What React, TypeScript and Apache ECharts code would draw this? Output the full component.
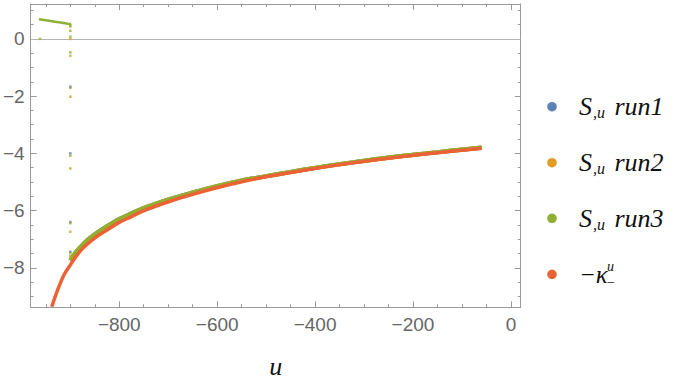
import React, { useEffect, useRef } from "react";
import * as echarts from "echarts";

// ---- data ----
const xMajorTicks = [-800, -600, -400, -200, 0];
const xMinorTicks = [-950, -900, -850, -800, -750, -700, -650, -600, -550, -500, -450, -400, -350, -300, -250, -200, -150, -100, -50, 0];
const yMajorTicks = [-8, -6, -4, -2, 0];
const yMinorTicks = [-9, -8.5, -8, -7.5, -7, -6.5, -6, -5.5, -5, -4.5, -4, -3.5, -3, -2.5, -2, -1.5, -1, -0.5, 0, 0.5, 1];

// S_{,u} main curve (runs overlap; run3 drawn on top)
const sCurveU = [-900, -890, -878, -865, -851, -825, -801, -775, -751, -701, -650, -601, -552, -501, -450, -401, -351, -300, -250, -200, -150, -100, -60];
const sCurveV = [-7.74, -7.48, -7.25, -7.03, -6.84, -6.55, -6.31, -6.1, -5.92, -5.62, -5.37, -5.15, -4.96, -4.8, -4.65, -4.51, -4.38, -4.26, -4.15, -4.05, -3.96, -3.87, -3.8];

// run3 early branch (u < -900)
const run3TopU = [-964, -950, -935, -920, -905, -900, -900];
const run3TopV = [0.69, 0.65, 0.61, 0.57, 0.53, 0.52, 0.4];

// isolated points at u = -900 (and one at -962)
const run1PtsU = [-900, -900, -900, -900];
const run1PtsV = [-1.67, -4.0, -6.4, -7.44];
const run2PtsU = [-900, -900, -900, -900, -900, -900];
const run2PtsV = [0.0, -0.59, -2.02, -4.53, -6.74, -7.59];
const run3PtsU = [-962, -900, -900, -900, -900, -900, -900, -900];
const run3PtsV = [0.0, 0.28, 0.08, -0.47, -1.71, -4.08, -6.44, -7.49];

// -kappa^u_- curve
const kappaU = [-938, -926, -913, -900, -878, -851, -825, -801, -775, -751, -701, -650, -601, -552, -501, -450, -401, -351, -300, -250, -200, -150, -100, -60];
const kappaV = [-9.36, -8.78, -8.25, -7.9, -7.38, -6.97, -6.68, -6.42, -6.21, -6.01, -5.7, -5.43, -5.2, -5.0, -4.82, -4.67, -4.53, -4.4, -4.28, -4.17, -4.07, -3.98, -3.89, -3.82];

const legendNames = ["S,u run1", "S,u run2", "S,u run3", "−κ^u_−"];
const colors = ["#5E81B5", "#E19C24", "#8FB032", "#EB6235"];

const zip = (u: number[], v: number[]) => u.map((x, i) => [x, v[i]]);

const X_MIN = -981;
const X_MAX = 20;
const Y_MIN = -9.38;
const Y_MAX = 1.22;

const FRAME = "#9a9a9a";
const LABEL = "#666666";

export default function App() {
  const ref = useRef<HTMLDivElement>(null);

  useEffect(() => {
    if (!ref.current) return;
    const chart = echarts.init(ref.current, undefined, { renderer: "svg" });

    const minus = (v: number) => String(v).replace("-", "\u2212");

    const baseX = (pos: "bottom" | "top", ticks: number[], len: number, line: boolean, labels: boolean) => ({
      type: "value" as const,
      gridIndex: 0,
      position: pos,
      min: X_MIN,
      max: X_MAX,
      axisLine: { show: line, onZero: false, lineStyle: { color: FRAME, width: 1 } },
      axisTick: { show: true, inside: true, length: len, customValues: ticks, lineStyle: { color: FRAME, width: 1 } },
      axisLabel: labels
        ? { show: true, customValues: xMajorTicks, formatter: minus, color: LABEL, fontSize: 19, fontFamily: "Liberation Sans", margin: 8 }
        : { show: false },
      splitLine: { show: false },
    });
    const baseY = (pos: "left" | "right", ticks: number[], len: number, line: boolean, labels: boolean) => ({
      type: "value" as const,
      gridIndex: 0,
      position: pos,
      min: Y_MIN,
      max: Y_MAX,
      axisLine: { show: line, onZero: false, lineStyle: { color: FRAME, width: 1 } },
      axisTick: { show: true, inside: true, length: len, customValues: ticks, lineStyle: { color: FRAME, width: 1 } },
      axisLabel: labels
        ? { show: true, customValues: yMajorTicks, formatter: minus, color: LABEL, fontSize: 19, fontFamily: "Liberation Sans", margin: 6 }
        : { show: false },
      splitLine: { show: false },
    });

    const xAxes: any[] = [
      {
        ...baseX("bottom", xMajorTicks, 6, true, true),
        name: "u",
        nameLocation: "middle",
        nameGap: 46,
        nameTextStyle: { fontFamily: "Liberation Serif", fontStyle: "italic", fontSize: 26, color: "#111" },
      },
      baseX("bottom", xMinorTicks, 3, false, false),
      baseX("top", xMajorTicks, 6, true, false),
      baseX("top", xMinorTicks, 3, false, false),
    ];
    const yAxes: any[] = [
      baseY("left", yMajorTicks, 6, true, true),
      baseY("left", yMinorTicks, 3, false, false),
      baseY("right", yMajorTicks, 6, true, false),
      baseY("right", yMinorTicks, 3, false, false),
    ];

    const sCurve = zip(sCurveU, sCurveV);

    const curveSeries = (name: string, color: string, data: number[][], width: number, z: number) => ({
      name,
      type: "line" as const,
      data,
      xAxisIndex: 0,
      yAxisIndex: 0,
      smooth: 0.35,
      showSymbol: false,
      symbol: "none",
      lineStyle: { color, width },
      itemStyle: { color },
      z,
      silent: true,
    });
    const ptsSeries = (name: string, color: string, data: number[][], z: number) => ({
      name,
      type: "scatter" as const,
      data,
      xAxisIndex: 0,
      yAxisIndex: 0,
      symbol: "rect",
      symbolSize: 2.5,
      itemStyle: { color },
      z,
      silent: true,
    });

    const series: any[] = [
      {
        ...curveSeries(legendNames[0], colors[0], sCurve, 4.2, 2),
        markLine: {
          silent: true,
          symbol: "none",
          label: { show: false },
          lineStyle: { color: "#b5b5b5", width: 1, type: "solid" },
          data: [{ yAxis: 0 }],
          z: 1,
        },
      },
      curveSeries(legendNames[1], colors[1], sCurve, 4.2, 3),
      curveSeries(legendNames[2], colors[2], sCurve, 4.2, 4),
      { ...curveSeries(legendNames[2] + " early", colors[2], zip(run3TopU, run3TopV), 2.5, 4), smooth: false },
      ptsSeries(legendNames[0] + " pts", colors[0], zip(run1PtsU, run1PtsV), 5),
      ptsSeries(legendNames[1] + " pts", colors[1], zip(run2PtsU, run2PtsV), 5),
      ptsSeries(legendNames[2] + " pts", colors[2], zip(run3PtsU, run3PtsV), 5),
      curveSeries(legendNames[3], colors[3], zip(kappaU, kappaV), 3.5, 6),
    ];

    const legendYs = [106.7, 162.7, 218.3, 274.3];
    const serif = "Liberation Serif";
    const graphic: any[] = [];
    legendYs.forEach((y, i) => {
      graphic.push({ type: "circle", shape: { cx: 552, cy: y, r: 4.8 }, style: { fill: colors[i] }, silent: true });
    });
    [0, 1, 2].forEach((i) => {
      graphic.push({
        type: "text",
        x: 579,
        y: legendYs[i],
        silent: true,
        style: {
          text: `{s|S}{sub|,u}{t| run${i + 1}}`,
          verticalAlign: "middle",
          rich: {
            s: { fontFamily: serif, fontStyle: "italic", fontSize: 26, lineHeight: 28, fill: "#111" },
            sub: { fontFamily: serif, fontStyle: "italic", fontSize: 16, lineHeight: 14, verticalAlign: "bottom", padding: [0, 3, 0, 1], fill: "#111" },
            t: { fontFamily: serif, fontStyle: "italic", fontSize: 26, lineHeight: 28, fill: "#111" },
          },
        },
      });
    });
    graphic.push(
      { type: "text", x: 579, y: legendYs[3], silent: true, style: { text: "−κ", fontFamily: serif, fontStyle: "italic", fontSize: 25, fill: "#111", verticalAlign: "middle" } },
      { type: "text", x: 607, y: legendYs[3] - 8, silent: true, style: { text: "u", fontFamily: serif, fontStyle: "italic", fontSize: 14, lineHeight: 10, fill: "#111", verticalAlign: "middle" } },
      { type: "text", x: 607, y: legendYs[3] + 8, silent: true, style: { text: "−", fontFamily: serif, fontSize: 14, lineHeight: 10, fill: "#111", verticalAlign: "middle" } }
    );

    chart.setOption({
      animation: false,
      backgroundColor: "#ffffff",
      grid: { left: 30, right: 163.3, top: 4, bottom: 77.7, containLabel: false },
      xAxis: xAxes,
      yAxis: yAxes,
      series,
      graphic,
    });

    return () => chart.dispose();
  }, []);

  return <div ref={ref} style={{ position: "fixed", left: 0, top: 0, width: 684, height: 385 }} />;
}
